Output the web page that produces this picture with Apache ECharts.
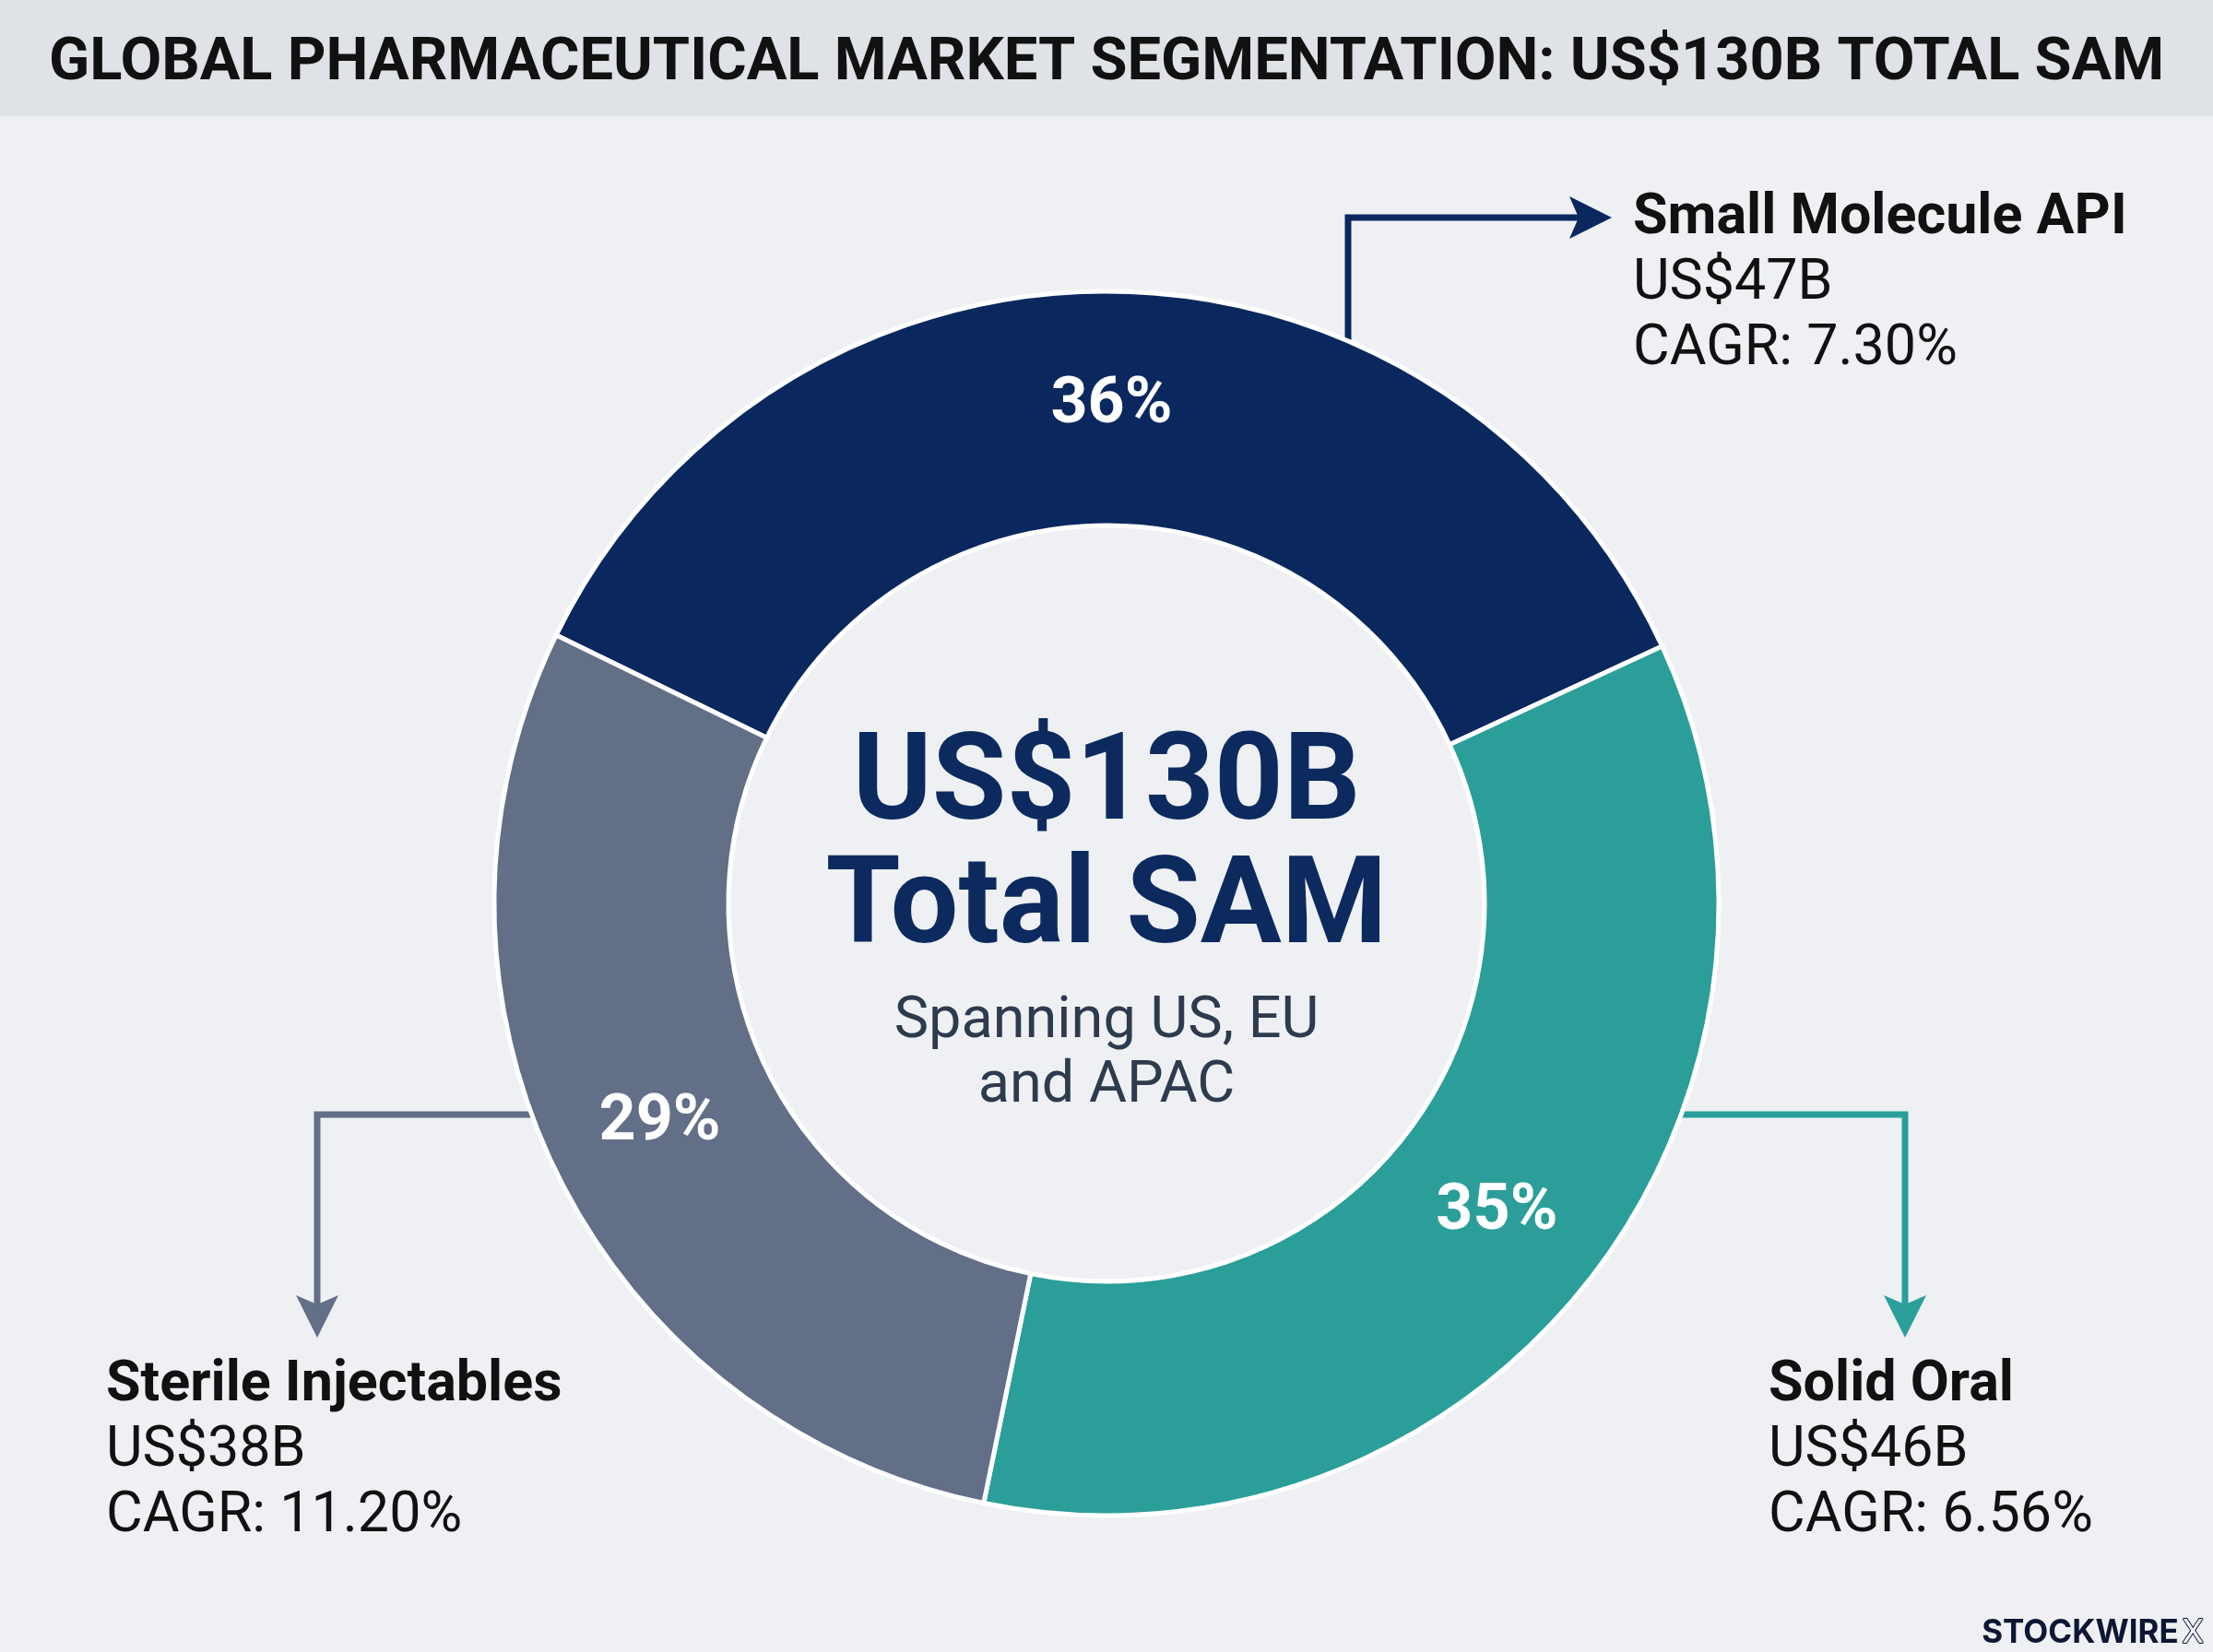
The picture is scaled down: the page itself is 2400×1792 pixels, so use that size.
<!DOCTYPE html>
<html>
<head>
<meta charset="utf-8">
<script src="https://cdn.jsdelivr.net/npm/echarts@6/dist/echarts.min.js"></script>
<style>
  html, body { margin: 0; height: 100%; background: #eef0f3; }
  #main { width: 2400px; height: 1792px; }
</style>
</head>
<body>
<div id="main"></div>
<script>
var chartTitle = 'GLOBAL PHARMACEUTICAL MARKET SEGMENTATION: US$130B TOTAL SAM';
var segments = ['Small Molecule API', 'Solid Oral', 'Sterile Injectables'];
var marketSize = [47, 46, 38];          // US$ billions
var cagr = ['7.30%', '6.56%', '11.20%'];
var centerMain = ['US$130B', 'Total SAM'];
var centerSub = ['Spanning US, EU', 'and APAC'];

var palette = ['#0b285e', '#2b9e9a', '#636e87'];
var cx = 1200, cy = 980, rOut = 664, rIn = 410;

// point on the outer ring edge for a given y (side = 1 right, -1 left) or x (top)
function edgeX(y, side) { return cx + side * Math.sqrt(rOut * rOut - (y - cy) * (y - cy)); }
function edgeY(x) { return cy - Math.sqrt(rOut * rOut - (x - cx) * (x - cx)); }

function arrowHead(tx, ty, dir) {
    if (dir === 'right') {
        return [[tx, ty], [tx - 46, ty - 23], [tx - 36, ty], [tx - 46, ty + 23]];
    }
    return [[tx, ty], [tx - 23, ty - 46], [tx, ty - 36], [tx + 23, ty - 46]];
}

var callouts = [
    { path: [[1462, edgeY(1462)], [1462, 236], [1712, 236]], tip: [1748, 236], dir: 'right', tx: 1771, ty: 238 },
    { path: [[edgeX(1209, 1) - 4, 1209], [2066, 1209], [2066, 1415]], tip: [2066, 1451], dir: 'down', tx: 1918, ty: 1504 },
    { path: [[edgeX(1209, -1) + 4, 1209], [344, 1209], [344, 1415]], tip: [344, 1451], dir: 'down', tx: 115, ty: 1504 }
];

var graphics = [
    { type: 'rect', shape: { x: 0, y: 0, width: 2400, height: 126 }, style: { fill: '#dfe2e6' }, z: -1 }
];

callouts.forEach(function (c, i) {
    graphics.push({
        type: 'polyline', shape: { points: c.path },
        style: { stroke: palette[i], lineWidth: 7, fill: null, lineJoin: 'miter' }
    });
    graphics.push({
        type: 'polygon', shape: { points: arrowHead(c.tip[0], c.tip[1], c.dir) },
        style: { fill: palette[i] }
    });
    var lines = [
        { text: segments[i], weight: 'bold' },
        { text: 'US$' + marketSize[i] + 'B', weight: 'normal' },
        { text: 'CAGR: ' + cagr[i], weight: 'normal' }
    ];
    lines.forEach(function (l, k) {
        graphics.push({
            type: 'text', x: c.tx, y: c.ty + k * 71,
            style: {
                text: l.text, fill: '#111111', fontSize: 61, fontWeight: l.weight,
                fontFamily: 'Roboto', align: 'left', verticalAlign: 'middle'
            }
        });
    });
});

centerMain.forEach(function (t, k) {
    graphics.push({
        type: 'text', x: cx, y: 855 + k * 134,
        style: {
            text: t, fill: '#0d2a5e', fontSize: 131, fontWeight: 'bold',
            fontFamily: 'Roboto', align: 'center', verticalAlign: 'middle'
        }
    });
});
centerSub.forEach(function (t, k) {
    graphics.push({
        type: 'text', x: cx, y: 1109 + k * 70,
        style: {
            text: t, fill: '#2e3a4d', fontSize: 63, fontWeight: 'normal',
            fontFamily: 'Roboto', align: 'center', verticalAlign: 'middle'
        }
    });
});

graphics.push({
    type: 'text', x: 2390, y: 1771,
    style: {
        text: '{a|STOCKWIRE} {b|X}', align: 'right', verticalAlign: 'middle',
        rich: {
            a: { fontSize: 35, fontWeight: 'bold', fontFamily: 'Inter', fill: '#0d1733' },
            b: { fontSize: 35, fontWeight: 'normal', fontFamily: 'Inter', fill: '#eef0f3', stroke: '#0d1733', lineWidth: 2 }
        }
    }
});

var myChart = echarts.init(document.getElementById('main'));
myChart.setOption({
    backgroundColor: '#eef0f3',
    animation: false,
    title: {
        text: chartTitle,
        left: 'center',
        top: 32,
        textStyle: { fontSize: 65, fontWeight: 'bold', fontFamily: 'Roboto', color: '#111111' }
    },
    graphic: graphics,
    series: [{
        type: 'pie',
        center: [cx, cy],
        radius: [rIn, rOut],
        startAngle: 154,
        clockwise: true,
        percentPrecision: 0,
        silent: true,
        itemStyle: { borderColor: '#ffffff', borderWidth: 5 },
        label: {
            show: true, position: 'inside', formatter: '{d}%',
            color: '#ffffff', fontSize: 70, fontWeight: 'bold', fontFamily: 'Roboto'
        },
        labelLine: { show: false },
        data: segments.map(function (name, i) {
            return { name: name, value: marketSize[i], itemStyle: { color: palette[i] } };
        })
    }]
});
</script>
</body>
</html>
